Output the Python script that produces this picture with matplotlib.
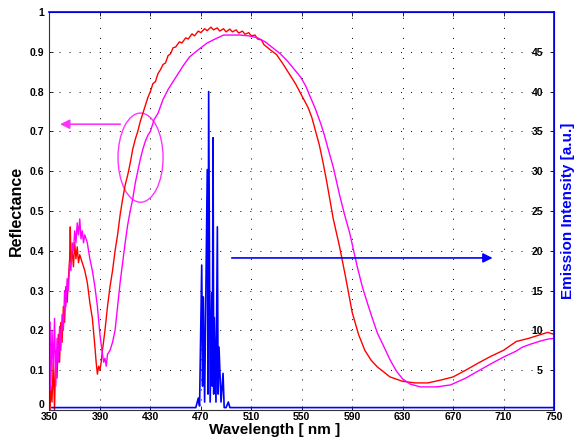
import matplotlib
matplotlib.use('Agg')
import matplotlib.pyplot as plt
import matplotlib.patches as patches

plt.rcParams['font.family'] = ['Liberation Sans', 'DejaVu Sans']

#Reflectance, red sample
red_wl = [350.5, 351, 352, 353, 354, 355, 356, 357, 358, 359, 360, 361, 362, 363, 364, 365,
          366, 366.5, 367, 368, 369, 370, 371, 372, 373, 374, 376, 378, 380, 382, 384, 386,
          387, 388, 389, 390, 391, 392, 394, 396, 398, 400, 402, 404, 406, 408, 410, 412,
          414, 416, 418, 420, 422, 424, 426, 428, 430, 432, 434, 436, 438, 440, 442, 444,
          446, 448, 450, 453, 455, 458, 460, 463, 465, 468, 470, 473, 475, 478, 480, 483,
          485, 488, 490, 493, 495, 498, 500, 503, 505, 508, 510, 513, 515, 518, 520, 525,
          530, 535, 540, 545, 550, 555, 558, 561, 564, 567, 570, 575, 580, 585, 590, 595,
          600, 605, 610, 620, 630, 640, 650, 660, 670, 680, 690, 700, 710, 720, 725, 730,
          735, 740, 745, 750]
red_r = [0.00, 0.06, 0.02, 0.12, 0.00, 0.15, 0.08, 0.19, 0.12, 0.22, 0.17, 0.26, 0.22, 0.31, 0.27, 0.33,
         0.38, 0.46, 0.37, 0.40, 0.36, 0.42, 0.38, 0.41, 0.37, 0.39, 0.37, 0.35, 0.32, 0.27, 0.23, 0.16,
         0.12, 0.09, 0.11, 0.10, 0.12, 0.15, 0.20, 0.26, 0.31, 0.35, 0.40, 0.44, 0.49, 0.53, 0.565, 0.59,
         0.62, 0.655, 0.68, 0.70, 0.725, 0.745, 0.765, 0.785, 0.80, 0.82, 0.825, 0.845, 0.855, 0.868, 0.872, 0.89,
         0.895, 0.91, 0.912, 0.925, 0.922, 0.935, 0.932, 0.945, 0.94, 0.952, 0.948, 0.958, 0.953, 0.962, 0.955, 0.96,
         0.952, 0.958, 0.95, 0.957, 0.95, 0.955, 0.947, 0.952, 0.944, 0.948, 0.94, 0.942, 0.932, 0.93, 0.918, 0.905,
         0.893, 0.87, 0.845, 0.82, 0.79, 0.76, 0.735, 0.70, 0.665, 0.62, 0.57, 0.48, 0.41, 0.33, 0.245, 0.19,
         0.15, 0.125, 0.108, 0.083, 0.072, 0.068, 0.068, 0.075, 0.083, 0.10, 0.118, 0.135, 0.15, 0.172, 0.176, 0.18,
         0.185, 0.19, 0.195, 0.19]

#Reflectance, magenta sample
mag_wl = [350.5, 351, 352, 353, 354, 355, 356, 357, 358, 359, 360, 361, 362, 363, 364, 365,
          366, 367, 368, 369, 370, 371, 372, 373, 374, 375, 376, 377, 378, 380, 382, 384,
          386, 388, 390, 392, 393, 394, 395, 396, 398, 400, 402, 404, 406, 408, 410, 412,
          414, 416, 418, 420, 422, 424, 426, 428, 430, 433, 436, 440, 444, 448, 452, 456,
          461, 466, 470, 475, 480, 488, 495, 501, 508, 515, 521, 527, 533, 538, 543, 549,
          553, 557, 561, 565, 568, 571, 575, 580, 584, 588, 594, 598, 602, 606, 610, 615,
          620, 625, 630, 636, 644, 657, 668, 680, 691, 700, 710, 720, 725, 732, 739, 745, 750]
mag_r = [0.22, 0.05, 0.20, 0.10, 0.23, 0.06, 0.18, 0.12, 0.21, 0.15, 0.24, 0.20, 0.30, 0.26, 0.33, 0.30,
         0.37, 0.35, 0.42, 0.40, 0.45, 0.42, 0.47, 0.44, 0.48, 0.43, 0.45, 0.42, 0.44, 0.42, 0.38, 0.35,
         0.31, 0.26, 0.19, 0.14, 0.12, 0.13, 0.11, 0.14, 0.15, 0.17, 0.20, 0.26, 0.32, 0.37, 0.42, 0.465,
         0.50, 0.53, 0.57, 0.60, 0.63, 0.655, 0.675, 0.69, 0.70, 0.73, 0.745, 0.78, 0.805, 0.825, 0.845, 0.865,
         0.887, 0.90, 0.91, 0.922, 0.93, 0.942, 0.942, 0.942, 0.94, 0.935, 0.925, 0.91, 0.895, 0.879, 0.86, 0.837,
         0.815, 0.785, 0.755, 0.72, 0.69, 0.655, 0.61, 0.54, 0.49, 0.445, 0.36, 0.31, 0.269, 0.23, 0.193, 0.16,
         0.126, 0.098, 0.078, 0.065, 0.058, 0.058, 0.063, 0.08, 0.10, 0.116, 0.133, 0.148, 0.158, 0.166, 0.173, 0.178, 0.18]

#Emission spectrum (right axis)
em_wl = [352, 466, 468, 469, 470.7, 471.4, 472, 473, 475.1, 475.7, 476.2, 477.4, 478.6, 479.1,
         479.7, 480.2, 480.7, 482, 483.1, 483.7, 484.4, 486, 487.6, 488.5, 490, 491.8, 493, 750]
em_i = [0.3, 0.3, 1.5, 0.5, 18.2, 3, 14.2, 1, 30.2, 2, 40, 1, 14.7, 3,
        34.2, 2, 11.6, 1, 23, 2, 7.9, 1, 4.6, 0.3, 0.3, 1, 0.3, 0.3]

x_ticks = [350, 390, 430, 470, 510, 550, 590, 630, 670, 710, 750]
y_ticks = [0, 0.1, 0.2, 0.3, 0.4, 0.5, 0.6, 0.7, 0.8, 0.9, 1]
y_tick_labels = ['0', '0.1', '0.2', '0.3', '0.4', '0.5', '0.6', '0.7', '0.8', '0.9', '1']
em_ticks = [5, 10, 15, 20, 25, 30, 35, 40, 45]

fig = plt.figure(figsize=(5.78, 4.45), dpi=100)
ax = fig.add_axes([0.0856, 0.0787, 0.8729, 0.8944])
ax2 = ax.twinx()

dotted = (0, (1.03, 9.3))
ax.grid(True, color='black', linestyle=dotted, linewidth=0.7)
ax.set_axisbelow(True)

ax.plot(red_wl, red_r, color='#ff0000', linewidth=1.0)
ax.plot(mag_wl, mag_r, color='#ff00ff', linewidth=1.0)
ax2.plot(em_wl, em_i, color='#0000ff', linewidth=1.2)

ax.set_xlim(350, 750)
ax.set_ylim(0, 1)
ax2.set_ylim(0, 50)
ax.set_xticks(x_ticks)
ax.set_yticks(y_ticks)
ax.set_yticklabels(y_tick_labels)
ax2.set_yticks(em_ticks)

ax.tick_params(axis='both', direction='in', length=3, width=0.6, labelsize=7.5, top=True)
ax.tick_params(axis='x', pad=1.5)
ax.tick_params(axis='y', pad=4)
for l in ax.get_xticklabels() + ax.get_yticklabels():
    l.set_fontweight('bold')
# keep the "0" clear of the "350" below it
ax.get_yticklabels()[0].set_verticalalignment('bottom')
ax2.tick_params(axis='y', direction='in', length=3, width=0.6, labelsize=7.5, pad=-8)
for l in ax2.get_yticklabels():
    l.set_fontweight('bold')
    l.set_horizontalalignment('right')

# spines like MATLAB plotyy
ax.spines['left'].set_color('#333333')
ax.spines['bottom'].set_color('#333333')
ax2.spines['left'].set_visible(False)
ax2.spines['bottom'].set_visible(False)
ax2.spines['right'].set_color('#0000ff')
ax2.spines['top'].set_color('#0000ff')
ax2.spines['right'].set_linewidth(1.2)
ax2.spines['top'].set_linewidth(1.2)

ax.set_xlabel('Wavelength [ nm ]', fontsize=11, fontweight='bold')
ax.xaxis.set_label_coords(0.447, -0.033)
ax.set_ylabel('Reflectance', fontsize=11.5, fontweight='bold')
ax.yaxis.set_label_coords(-0.05, 0.5)
ax2.set_ylabel('Emission Intensity [a.u.]', fontsize=11, fontweight='bold', color='#0000ff')
ax2.yaxis.set_label_coords(1.014, 0.5)

# magenta ellipse and arrow to the left axis
ell = patches.Ellipse((422.2, 0.634), 35.7, 0.224, fill=False, edgecolor='#ff33ff', linewidth=1.0)
ax.add_patch(ell)
ax.annotate('', xy=(356.2, 0.718), xytext=(408.3, 0.718),
            arrowprops=dict(arrowstyle='-|>', color='#ff33ff', lw=1.2, mutation_scale=14))

# blue arrow to the right axis
ax2.annotate('', xy=(703.5, 19.1), xytext=(492.3, 19.1),
             arrowprops=dict(arrowstyle='-|>', color='#0000ff', lw=1.2, mutation_scale=14))

plt.savefig('out.png', dpi=100)
